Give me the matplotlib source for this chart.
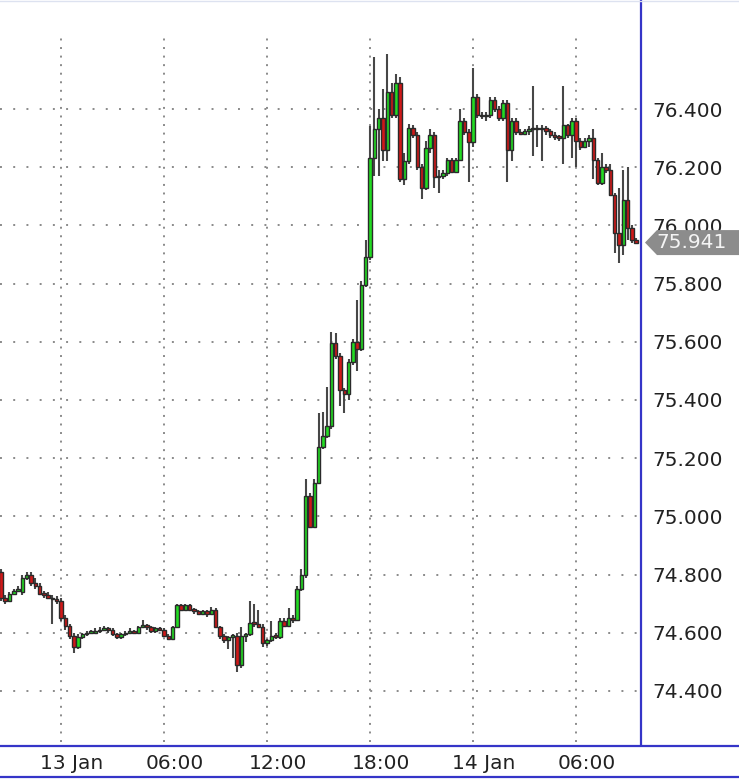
import numpy as np
import pandas as pd
import matplotlib
matplotlib.use('Agg')
import matplotlib.pyplot as plt
import matplotlib.dates as mdates
import matplotlib.transforms as mtransforms
from matplotlib.lines import Line2D
from matplotlib.patches import Polygon

# 15 minute candles, 12 Jan 20:30 -> 14 Jan 09:30
start = "2025-01-12 20:30"

opens = [
    74.81, 74.72, 74.71, 74.735, 74.745, 74.74, 74.79, 74.80, 74.77, 74.76, 74.735, 74.73,
    74.72, 74.715, 74.71, 74.65, 74.625, 74.59, 74.55, 74.585, 74.595, 74.60, 74.60, 74.605,
    74.61, 74.615, 74.61, 74.595, 74.585, 74.595, 74.60, 74.605, 74.60, 74.62, 74.625, 74.62,
    74.605, 74.615, 74.61, 74.59, 74.58, 74.62, 74.695, 74.68, 74.695, 74.68, 74.675, 74.665,
    74.675, 74.665, 74.68, 74.62, 74.59, 74.575, 74.585, 74.59, 74.49, 74.59, 74.595, 74.635,
    74.63, 74.62, 74.565, 74.575, 74.59, 74.585, 74.64, 74.625, 74.65, 74.645, 74.75, 74.80,
    75.07, 74.965, 75.115, 75.24, 75.275, 75.31, 75.595, 75.55, 75.435, 75.42, 75.53, 75.60,
    75.575, 75.795, 75.89, 76.23, 76.33, 76.37, 76.26, 76.46, 76.38, 76.49, 76.16, 76.22,
    76.335, 76.31, 76.20, 76.13, 76.265, 76.31, 76.165, 76.17, 76.18, 76.225, 76.185, 76.225,
    76.36, 76.32, 76.285, 76.44, 76.38, 76.375, 76.38, 76.43, 76.40, 76.37, 76.42, 76.26,
    76.36, 76.32, 76.315, 76.325, 76.33, 76.335, 76.33, 76.335, 76.325, 76.31, 76.305, 76.30,
    76.345, 76.31, 76.36, 76.29, 76.27, 76.29, 76.30, 76.225, 76.146, 76.20, 76.19, 76.104,
    75.974, 75.933, 76.087, 75.991, 75.95,
]
highs = [
    74.82, 74.73, 74.74, 74.75, 74.76, 74.80, 74.81, 74.81, 74.79, 74.77, 74.745, 74.74,
    74.73, 74.725, 74.72, 74.66, 74.63, 74.60, 74.595, 74.60, 74.605, 74.61, 74.615, 74.62,
    74.625, 74.62, 74.615, 74.60, 74.60, 74.605, 74.615, 74.61, 74.625, 74.645, 74.63, 74.625,
    74.62, 74.62, 74.615, 74.595, 74.625, 74.70, 74.70, 74.70, 74.70, 74.685, 74.68, 74.68,
    74.68, 74.69, 74.685, 74.625, 74.595, 74.59, 74.595, 74.60, 74.62, 74.60, 74.71, 74.70,
    74.68, 74.63, 74.58, 74.64, 74.60, 74.65, 74.65, 74.685, 74.66, 74.76, 74.82, 75.13,
    75.08, 75.13, 75.355, 75.36, 75.445, 75.635, 75.63, 75.56, 75.44, 75.54, 75.61, 75.745,
    75.81, 75.95, 76.34, 76.58, 76.40, 76.47, 76.59, 76.49, 76.52, 76.51, 76.25, 76.35,
    76.345, 76.32, 76.21, 76.29, 76.33, 76.32, 76.19, 76.19, 76.23, 76.23, 76.23, 76.40,
    76.37, 76.33, 76.54, 76.45, 76.39, 76.39, 76.44, 76.44, 76.41, 76.43, 76.43, 76.37,
    76.37, 76.33, 76.33, 76.34, 76.48, 76.345, 76.345, 76.34, 76.33, 76.32, 76.31, 76.48,
    76.35, 76.37, 76.37, 76.30, 76.30, 76.31, 76.33, 76.23, 76.25, 76.21, 76.21, 76.11,
    76.13, 76.19, 76.20, 76.00, 75.955,
]
lows = [
    74.71, 74.70, 74.705, 74.73, 74.74, 74.73, 74.78, 74.76, 74.75, 74.73, 74.72, 74.715,
    74.63, 74.70, 74.64, 74.61, 74.58, 74.53, 74.545, 74.58, 74.59, 74.595, 74.595, 74.60,
    74.605, 74.60, 74.59, 74.58, 74.58, 74.59, 74.595, 74.595, 74.595, 74.615, 74.61, 74.60,
    74.60, 74.605, 74.585, 74.575, 74.575, 74.615, 74.675, 74.675, 74.675, 74.665, 74.66, 74.66,
    74.655, 74.66, 74.615, 74.58, 74.565, 74.545, 74.515, 74.465, 74.48, 74.57, 74.59, 74.62,
    74.615, 74.55, 74.555, 74.57, 74.58, 74.58, 74.62, 74.62, 74.635, 74.64, 74.745, 74.79,
    74.96, 74.96, 75.11, 75.23, 75.27, 75.30, 75.54, 75.38, 75.355, 75.40, 75.52, 75.50,
    75.57, 75.79, 75.88, 76.17, 76.17, 76.22, 76.22, 76.37, 76.37, 76.15, 76.14, 76.21,
    76.30, 76.19, 76.09, 76.12, 76.25, 76.13, 76.11, 76.16, 76.17, 76.18, 76.18, 76.22,
    76.31, 76.15, 76.27, 76.37, 76.365, 76.36, 76.37, 76.39, 76.36, 76.36, 76.15, 76.22,
    76.31, 76.31, 76.31, 76.31, 76.24, 76.27, 76.22, 76.31, 76.30, 76.295, 76.29, 76.21,
    76.30, 76.23, 76.20, 76.26, 76.265, 76.27, 76.16, 76.14, 76.14, 76.18, 76.10, 75.905,
    75.87, 75.90, 75.95, 75.94, 75.935,
]
closes = [
    74.72, 74.71, 74.735, 74.745, 74.75, 74.79, 74.80, 74.77, 74.76, 74.735, 74.73, 74.72,
    74.715, 74.71, 74.65, 74.625, 74.59, 74.55, 74.585, 74.595, 74.60, 74.60, 74.605, 74.61,
    74.615, 74.61, 74.595, 74.585, 74.595, 74.60, 74.605, 74.60, 74.62, 74.625, 74.62, 74.605,
    74.615, 74.61, 74.59, 74.58, 74.62, 74.695, 74.68, 74.695, 74.68, 74.675, 74.665, 74.675,
    74.665, 74.68, 74.62, 74.59, 74.575, 74.585, 74.59, 74.49, 74.59, 74.595, 74.635, 74.63,
    74.62, 74.565, 74.575, 74.59, 74.585, 74.64, 74.625, 74.65, 74.645, 74.75, 74.80, 75.07,
    74.965, 75.115, 75.24, 75.275, 75.31, 75.595, 75.55, 75.435, 75.42, 75.53, 75.60, 75.575,
    75.795, 75.89, 76.23, 76.33, 76.37, 76.26, 76.46, 76.38, 76.49, 76.16, 76.22, 76.335,
    76.31, 76.20, 76.13, 76.265, 76.31, 76.165, 76.17, 76.18, 76.225, 76.185, 76.225, 76.36,
    76.32, 76.285, 76.44, 76.38, 76.375, 76.38, 76.43, 76.40, 76.37, 76.42, 76.26, 76.36,
    76.32, 76.315, 76.325, 76.33, 76.335, 76.33, 76.335, 76.325, 76.31, 76.305, 76.30, 76.345,
    76.31, 76.36, 76.29, 76.27, 76.29, 76.30, 76.225, 76.146, 76.20, 76.19, 76.104, 75.974,
    75.933, 76.087, 75.991, 75.95, 75.941,
]

price_ticks = [74.4, 74.6, 74.8, 75.0, 75.2, 75.4, 75.6, 75.8, 76.0, 76.2, 76.4]
time_ticks = ["2025-01-13 00:00", "2025-01-13 06:00", "2025-01-13 12:00",
              "2025-01-13 18:00", "2025-01-14 00:00", "2025-01-14 06:00"]
time_labels = ["13 Jan", "06:00", "12:00", "18:00", "14 Jan", "06:00"]
last_price = 75.941

times = pd.date_range(start, periods=len(opens), freq="15min")
x = mdates.date2num(times)
o = np.array(opens)
c = np.array(closes)
up = c >= o

fig = plt.figure(figsize=(7.39, 7.81), dpi=100)
ax = fig.add_axes([0, 36 / 781, 641 / 739, 745 / 781])

y_lo, y_hi = 74.2144, 76.7746
day0 = mdates.date2num(pd.Timestamp("2025-01-13"))
ax.set_xlim(day0 - 3.553 / 24, day0 + 33.78 / 24)
ax.set_ylim(y_lo, y_hi)

# grid (dotted, drawn by hand so the dot spacing can differ per direction)
for p in price_ticks:
    ax.axhline(p, color='#8a8a8a', lw=1.4, linestyle=(0, (1, 5.8)), zorder=1)
tx = mdates.date2num(pd.to_datetime(time_ticks))
ax.vlines(tx, y_lo + 0.01, 76.66, colors='#8a8a8a', lw=1.4,
          linestyles=[(0, (1, 3.4))], zorder=1)

# candles
w = 0.2 / 24
bottoms = np.minimum(o, c)
heights = np.maximum(np.abs(c - o), 0.006)
ax.vlines(x, lows, highs, colors='#474747', lw=1.5, zorder=2)
ax.bar(x, heights, width=w, bottom=bottoms,
       color=np.where(up, '#22dc22', '#d01818'),
       edgecolor='#2a2a2a', linewidth=1.0, zorder=3)

# axes look
for s in ['left', 'top', 'bottom']:
    ax.spines[s].set_visible(False)
ax.spines['right'].set_color('#3535c8')
ax.spines['right'].set_linewidth(1.6)

ax.yaxis.tick_right()
ax.set_yticks(price_ticks)
ax.set_yticklabels([f"{p:.3f}" for p in price_ticks])
ax.tick_params(axis='y', length=0, pad=8, labelsize=14.5, labelcolor='#222222')

ax.set_xticks(tx)
ax.set_xticklabels(time_labels)
ax.tick_params(axis='x', length=0, pad=6.5, labelsize=14.5, labelcolor='#222222')
shift = mtransforms.ScaledTranslation(11 / 100, 0, fig.dpi_scale_trans)
for lab in ax.get_xticklabels():
    lab.set_transform(lab.get_transform() + shift)

# time axis band lines
for yy in [(781 - 746) / 781, (781 - 777) / 781]:
    fig.add_artist(Line2D([0, 1], [yy, yy], transform=fig.transFigure,
                          color='#3535c8', lw=1.6))
fig.add_artist(Line2D([0, 1], [0.999, 0.999], transform=fig.transFigure,
                      color='#dde2f0', lw=1.0))

# last price tag, drawn over the 76.000 label like the original
trans = mtransforms.blended_transform_factory(fig.transFigure, ax.transData)
dh = 12.5 / 291
tag = Polygon([(645 / 739, last_price), (657 / 739, last_price + dh), (1.0, last_price + dh),
               (1.0, last_price - dh), (657 / 739, last_price - dh)],
              closed=True, transform=trans, facecolor='#8c8c8c', edgecolor='none',
              clip_on=False, zorder=5)
ax.add_patch(tag)
ax.text(656 / 739, last_price, f"{last_price:.3f}", transform=trans, color='#f4f4f4',
        fontsize=14.5, va='center', ha='left', zorder=6, clip_on=False)

fig.savefig("out.png", dpi=100)
